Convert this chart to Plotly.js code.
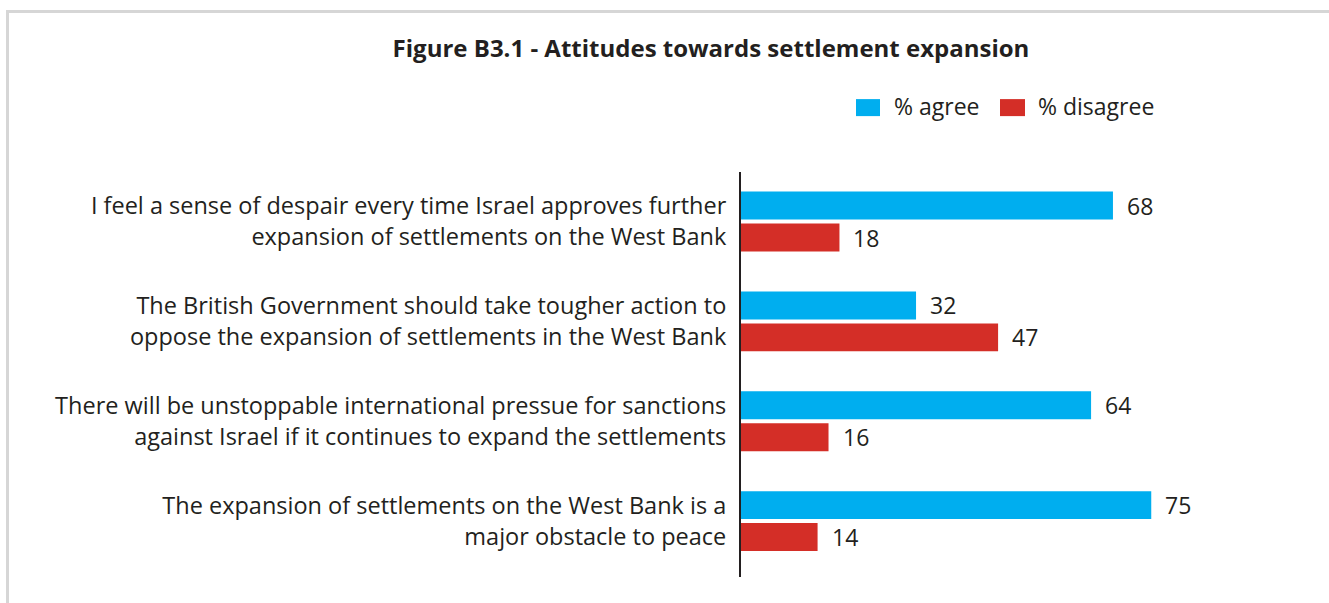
<!DOCTYPE html>
<html>
<head>
<meta charset="utf-8">
<script src="https://cdn.plot.ly/plotly-3.0.1.min.js"></script>
<style>
  html, body { margin: 0; padding: 0; background: #ffffff; }
  #wrap { position: relative; width: 1329px; height: 603px; overflow: hidden; }
  #frame { position: absolute; left: 6px; top: 10px; right: -10px; bottom: -10px;
           border-top: 3px solid #d6d6d6; border-left: 3px solid #d6d6d6; }
  #chart { position: absolute; left: 0; top: 0; width: 1329px; height: 603px; }
</style>
</head>
<body>
<div id="wrap">
  <div id="frame"></div>
  <div id="chart"></div>
</div>
<script>
const categories = [
  "I feel a sense of despair every time Israel approves further<br>expansion of settlements on the West Bank",
  "The British Government should take tougher action to<br>oppose the expansion of settlements in the West Bank",
  "There will be unstoppable international pressue for sanctions<br>against Israel if it continues to expand the settlements",
  "The expansion of settlements on the West Bank is a<br>major obstacle to peace"
];
const seriesNames = ["% agree", "% disagree"];
const agree = [68, 32, 64, 75];
const disagree = [18, 47, 16, 14];
const titleText = "<b>Figure B3.1 - Attitudes towards settlement expansion</b>";

const colors = ["#00aeef", "#d42e27"];
const textColor = "#231f20";
const FONT = "Open Sans, Noto Sans, sans-serif";

const traces = [agree, disagree].map((vals, k) => ({
  type: "bar",
  orientation: "h",
  name: seriesNames[k],
  y: categories,
  x: vals,
  marker: { color: colors[k] },
  hoverinfo: "x+name",
  showlegend: false
}));

const annotations = [];
[agree, disagree].forEach((vals, k) => {
  vals.forEach((v, i) => {
    annotations.push({
      x: v, y: categories[i], xref: "x", yref: "y",
      text: String(v), showarrow: false,
      xanchor: "left", yanchor: "middle",
      xshift: 12, yshift: k === 0 ? 16 : -16,
      font: { family: FONT, size: 23, color: textColor }
    });
  });
});

// custom legend (swatches + labels)
const legendItems = [
  { sx0: 0.2102, sx1: 0.2541, tx: 0.2755 },
  { sx0: 0.4735, sx1: 0.5192, tx: 0.5393 }
];
const shapes = [];
legendItems.forEach((it, k) => {
  shapes.push({
    type: "rect", xref: "paper", yref: "paper",
    x0: it.sx0, x1: it.sx1, y0: 1.138, y1: 1.180,
    fillcolor: colors[k], line: { width: 0 }
  });
  annotations.push({
    x: it.tx, y: 1.162, xref: "paper", yref: "paper",
    text: seriesNames[k], showarrow: false,
    xanchor: "left", yanchor: "middle",
    font: { family: FONT, size: 23, color: textColor }
  });
});

const layout = {
  width: 1329, height: 603,
  margin: { l: 741, r: 41, t: 172, b: 26, pad: 0 },
  paper_bgcolor: "rgba(0,0,0,0)",
  plot_bgcolor: "rgba(0,0,0,0)",
  title: {
    text: titleText,
    x: 0.535, xanchor: "center", xref: "container",
    y: 0.92, yanchor: "middle", yref: "container",
    font: { family: FONT, size: 24, color: textColor }
  },
  font: { family: FONT, color: textColor },
  barmode: "group",
  bargap: 0.36,
  bargroupgap: 0.125,
  showlegend: false,
  xaxis: {
    range: [0, 100], visible: false, fixedrange: true
  },
  yaxis: {
    type: "category",
    range: [3.56, -0.496],
    showline: true, linecolor: textColor, linewidth: 2,
    showgrid: false, zeroline: false,
    ticks: "", ticklabelstandoff: 8,
    tickfont: { family: FONT, size: 23.5, color: textColor },
    fixedrange: true
  },
  shapes: shapes,
  annotations: annotations
};

Plotly.newPlot("chart", traces, layout, { displayModeBar: false, staticPlot: true });
</script>
</body>
</html>
